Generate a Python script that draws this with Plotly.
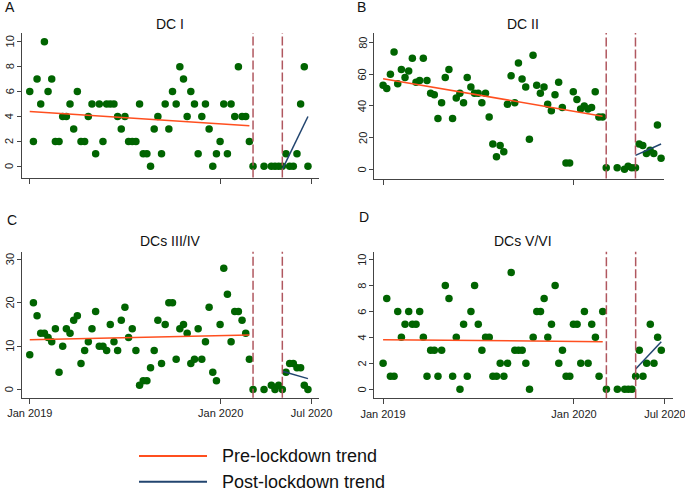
import pandas as pd
import plotly.graph_objects as go

# weekly series, week 0 = first week of Jan 2019 (weeks 62, 63, 65 have no data)
start = pd.Timestamp("2019-01-01")
weeks = list(range(62)) + [64, 66, 67, 68, 69, 70, 71, 72, 73, 74, 75, 76]

dc_1 = [6, 2, 7, 5, 10, 6, 7, 2, 2, 4, 4, 5, 3, 6, 2, 2, 4, 5, 1, 5,
        2, 5, 5, 5, 4, 3, 4, 2, 2, 2, 5, 1, 1, 0, 3, 4, 1, 5, 3, 6,
        5, 8, 7, 4, 6, 5, 1, 4, 5, 3, 0, 1, 2, 5, 1, 5, 4, 8, 4, 4,
        2, 0,
        0, 0, 0, 0, 0, 1, 0, 0, 1, 5, 8, 0]
dc_2 = [53, 51, 60, 74, 54, 63, 58, 62, 70, 55, 56, 70, 56, 48, 47, 32, 42, 58, 63, 32,
        45, 48, 42, 58, 52, 48, 48, 42, 48, 33, 16, 8, 15, 11, 41, 59, 42, 67, 57, 52,
        19, 72, 53, 48, 52, 41, 37, 47, 55, 39, 4, 4, 49, 44, 38, 40, 38, 39, 49, 33,
        33, 1,
        1, 0, 2, 1, 1, 16, 15, 10, 12, 10, 28, 7]
dc_3_4 = [8, 20, 17, 13, 13, 12, 11, 14, 4, 10, 14, 13, 16, 17, 6, 9, 11, 14, 18, 10,
          10, 9, 15, 11, 9, 16, 19, 12, 14, 9, 1, 2, 2, 5, 9, 16, 6, 15, 20, 20,
          7, 14, 15, 13, 6, 7, 14, 7, 11, 19, 4, 2, 15, 28, 22, 11, 18, 18, 16, 13,
          7, 0,
          0, 1, 0, 1, 0, 4, 6, 6, 5, 5, 1, 0]
dc_5_6 = [2, 7, 1, 1, 6, 4, 5, 6, 5, 5, 6, 4, 1, 3, 3, 1, 3, 8, 7, 1,
          4, 0, 5, 1, 6, 8, 5, 3, 4, 4, 1, 1, 2, 1, 2, 9, 3, 3, 3, 2,
          0, 4, 6, 6, 7, 4, 5, 8, 2, 3, 1, 1, 5, 5, 2, 6, 2, 5, 4, 1,
          6, 0,
          0, 0, 0, 0, 1, 3, 1, 2, 5, 2, 4, 3]

# fitted trends (start/end values)
pre_weeks = [0, 60]
post_weeks = [69, 76]
pre_1, post_1 = [4.4, 3.25], [-0.25, 4.0]
pre_2, post_2 = [57.2, 33.5], [8.8, 16.0]
pre_3_4, post_3_4 = [11.45, 12.6], [4.2, 2.5]
pre_5_6, post_5_6 = [3.82, 3.66], [1.56, 3.66]

lockdown_weeks = [61, 69]
titles = ["DC I", "DC II", "DCs III/IV", "DCs V/VI"]
letters = ["A", "B", "C", "D"]
tick_weeks = [0, 52.15, 77]
tick_text = ["Jan 2019", "Jan 2020", "Jul 2020"]
y_ticks_1 = [0, 2, 4, 6, 8, 10]
y_ticks_2 = [0, 20, 40, 60, 80]
y_ticks_3_4 = [0, 10, 20, 30]
y_ticks_5_6 = [0, 2, 4, 6, 8, 10]


def wk(w):
    return start + pd.Timedelta(days=7 * w)


dates = [wk(w) for w in weeks]

FONT = "Liberation Sans, Arial, sans-serif"
GREEN = "#006400"
ORANGE = "#ff4f1f"
BLUE = "#22456f"
DASH = "#b0575f"
AXIS = "#444444"

panels = [
    dict(y=dc_1, pre=pre_1, post=post_1, yt=y_ticks_1, dx=[21.7, 319.3], dy=[33, 177.5], yr=[-0.9, 10.7], xr=[-2.2, 79.1]),
    dict(y=dc_2, pre=pre_2, post=post_2, yt=y_ticks_2, dx=[374.3, 664], dy=[33, 178.5], yr=[-5.8, 86], xr=[-2.4, 76.8]),
    dict(y=dc_3_4, pre=pre_3_4, post=post_3_4, yt=y_ticks_3_4, dx=[21.7, 319.3], dy=[251.7, 397.7], yr=[-1.9, 31.8], xr=[-2.2, 79.1]),
    dict(y=dc_5_6, pre=pre_5_6, post=post_5_6, yt=y_ticks_5_6, dx=[374.3, 673], dy=[251.7, 398.3], yr=[-0.7, 10.6], xr=[-2.4, 79.2]),
]

W, H = 685, 491
fig = go.Figure()
layout = {}
shapes = []
annotations = []

for i, p in enumerate(panels):
    n = "" if i == 0 else str(i + 1)
    xa, ya = "x" + n, "y" + n
    fig.add_trace(go.Scatter(x=dates, y=p["y"], mode="markers", xaxis=xa, yaxis=ya,
                             marker=dict(color=GREEN, size=7.5), showlegend=False,
                             cliponaxis=False))
    fig.add_trace(go.Scatter(x=[wk(w) for w in pre_weeks], y=p["pre"], mode="lines",
                             xaxis=xa, yaxis=ya, line=dict(color=ORANGE, width=1.5),
                             showlegend=False))
    fig.add_trace(go.Scatter(x=[wk(w) for w in post_weeks], y=p["post"], mode="lines",
                             xaxis=xa, yaxis=ya, line=dict(color=BLUE, width=1.5),
                             showlegend=False))
    bottom = i >= 2
    layout["xaxis" + n] = dict(
        domain=[p["dx"][0] / W, p["dx"][1] / W], anchor=ya, automargin=False,
        range=[wk(p["xr"][0]), wk(p["xr"][1])],
        tickvals=[wk(t) for t in tick_weeks], ticktext=tick_text,
        showticklabels=bottom, ticks="outside", ticklen=5, tickcolor=AXIS,
        ticklabeloverflow="allow",
        showline=True, linecolor=AXIS, linewidth=1, showgrid=False, zeroline=False,
        tickfont=dict(size=11, color="#222", family=FONT))
    layout["yaxis" + n] = dict(
        domain=[1 - p["dy"][1] / H, 1 - p["dy"][0] / H], anchor=xa, automargin=False,
        range=p["yr"], tickvals=p["yt"], showticklabels=False,
        ticks="outside", ticklen=4, tickcolor=AXIS,
        showline=True, linecolor=AXIS, linewidth=1, showgrid=False, zeroline=False)
    # vertical (rotated) y tick labels, as in the original
    for v in p["yt"]:
        annotations.append(dict(text=str(v), x=(p["dx"][0] - 12) / W, y=v,
                                xref="paper", yref=ya, textangle=-90,
                                xanchor="center", yanchor="middle", showarrow=False,
                                font=dict(size=11, color="#222", family=FONT)))
    for w in lockdown_weeks:
        shapes.append(dict(type="line", xref=xa, yref=ya + " domain",
                           x0=wk(w), x1=wk(w), y0=0, y1=1,
                           line=dict(color=DASH, width=1.5, dash="9px,3px")))

# panel titles and letters
title_pos = [(170, 24), (523, 24), (170, 241), (523, 241)]
letter_pos = [(2.5, 7), (355, 7), (5, 220), (356.5, 217)]
for t, (tx, ty), l, (lx, ly) in zip(titles, title_pos, letters, letter_pos):
    annotations.append(dict(text=t, x=tx / W, y=1 - ty / H, xref="paper", yref="paper",
                            xanchor="center", yanchor="middle", showarrow=False,
                            font=dict(size=14, color="#111", family=FONT)))
    annotations.append(dict(text=l, x=lx / W, y=1 - ly / H, xref="paper", yref="paper",
                            xanchor="left", yanchor="middle", showarrow=False,
                            font=dict(size=14, color="#111", family=FONT)))

# legend
legend_items = [("Pre-lockdown trend", ORANGE, 456), ("Post-lockdown trend", BLUE, 481.7)]
for label, col, ly in legend_items:
    shapes.append(dict(type="line", xref="paper", yref="paper",
                       x0=139 / W, x1=207 / W, y0=1 - ly / H, y1=1 - ly / H,
                       line=dict(color=col, width=2)))
    annotations.append(dict(text=label, x=220 / W, y=1 - ly / H, xref="paper", yref="paper",
                            xanchor="left", yanchor="middle", showarrow=False,
                            font=dict(size=18, color="#111", family=FONT)))

fig.update_layout(
    width=W, height=H, autosize=False,
    margin=dict(l=0, r=0, t=0, b=0, pad=0),
    paper_bgcolor="white", plot_bgcolor="white",
    shapes=shapes, annotations=annotations,
    **layout,
)

# drop the browser's default page margin so the figure sits at the window corner
fig.write_html("out.html", config={"displayModeBar": False},
               post_script="document.body.style.margin='0';")
